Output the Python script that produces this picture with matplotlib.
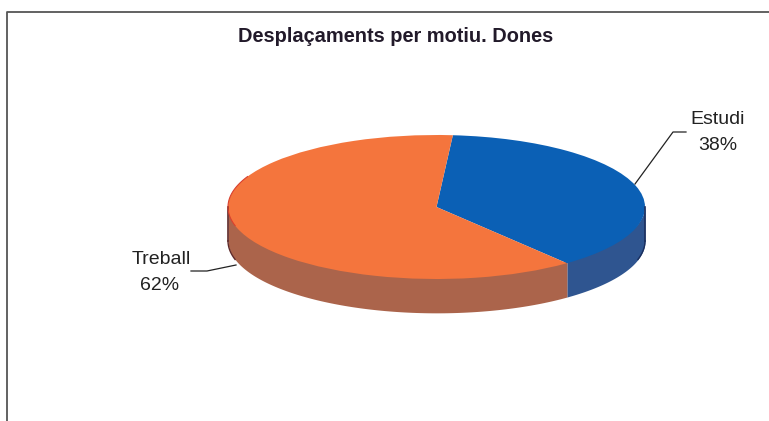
import numpy as np
import matplotlib
matplotlib.use('Agg')
import matplotlib.pyplot as plt

# share of trips by reason
labels = ['Estudi', 'Treball']
shares = [38, 62]
pct_labels = ['38%', '62%']
top_colors = ['#0B60B5', '#F4753D']
side_colors = ['#2F5590', '#AB644B']

W, H = 769, 421
START = 85.5      # degrees, where the first slice begins
DEPTH = 0.47      # thickness of the disc in y units

plt.rcParams['font.family'] = ['Liberation Sans', 'DejaVu Sans']

fig = plt.figure(figsize=(W / 100, H / 100), dpi=100)
fig.patch.set_facecolor('white')

# axes box sits on the ellipse so that the unit circle gets squashed
cx, cy, rx, ry = 436.5, 207, 208.5, 72
ax = fig.add_axes([(cx - rx) / W, 1 - (cy + ry) / H, 2 * rx / W, 2 * ry / H])

# side wall, going round the front half of the rim
angs = np.cumsum([0] + shares) * 3.6
for i in range(len(shares)):
    a0 = START - angs[i + 1]
    a1 = START - angs[i]
    lo = max(a0, -180)
    hi = min(a1, 0)
    t = np.radians(np.linspace(lo, hi, 120))
    ax.fill_between(np.cos(t), np.sin(t) + 0.03, np.sin(t) - DEPTH,
                    color=side_colors[i], lw=0, clip_on=False)

# dark corners where the wall turns away
t = np.radians(np.linspace(-180, -165, 30))
ax.plot(np.cos(t), np.sin(t) - DEPTH, color='#5E2A2A', lw=1.0, clip_on=False)
ax.plot([-1, -1], [0, -DEPTH], color='#5E2A2A', lw=1.2, clip_on=False)
t = np.radians(np.linspace(-15, 0, 30))
ax.plot(np.cos(t), np.sin(t) - DEPTH, color='#1B2F5E', lw=1.0, clip_on=False)
ax.plot([1, 1], [0, -DEPTH], color='#1B2F5E', lw=1.2, clip_on=False)

wedges, _ = ax.pie(shares, colors=top_colors, startangle=START, counterclock=False,
                   radius=1, wedgeprops={'linewidth': 0})
for w in wedges:
    w.set_clip_on(False)

# reddish rim on the left of the top face
t = np.radians(np.linspace(155, 195, 60))
ax.plot(np.cos(t), np.sin(t), color='#D9402E', lw=0.8, clip_on=False)

ax.set_aspect('auto')
ax.set_xlim(-1, 1)
ax.set_ylim(-1, 1)
ax.axis('off')

# everything else is placed in pixel coordinates
ov = fig.add_axes([0, 0, 1, 1], facecolor='none')
ov.set_xlim(0, W)
ov.set_ylim(H, 0)
ov.axis('off')

# chart frame, only top and left are on the page
ov.plot([7, 7, W], [H, 12, 12], color='#555555', lw=1.3, clip_on=False)

ov.text(396, 37, 'Desplaçaments per motiu. Dones', ha='center', va='center',
        fontsize=14.4, fontweight='bold', color='#221A2A')

ov.text(718, 119, labels[0], ha='center', va='center', fontsize=14, color='#222222')
ov.text(718, 146, pct_labels[0], ha='center', va='center', fontsize=14, color='#222222')
ov.text(161, 259, labels[1], ha='center', va='center', fontsize=14, color='#222222')
ov.text(160, 285, pct_labels[1], ha='center', va='center', fontsize=14, color='#222222')

# leader lines
ov.plot([686, 673, 635], [132, 132, 184], color='#222222', lw=0.9)
ov.plot([191, 207, 236], [271, 271, 265], color='#222222', lw=0.9)

fig.savefig('out.png', dpi=100)
